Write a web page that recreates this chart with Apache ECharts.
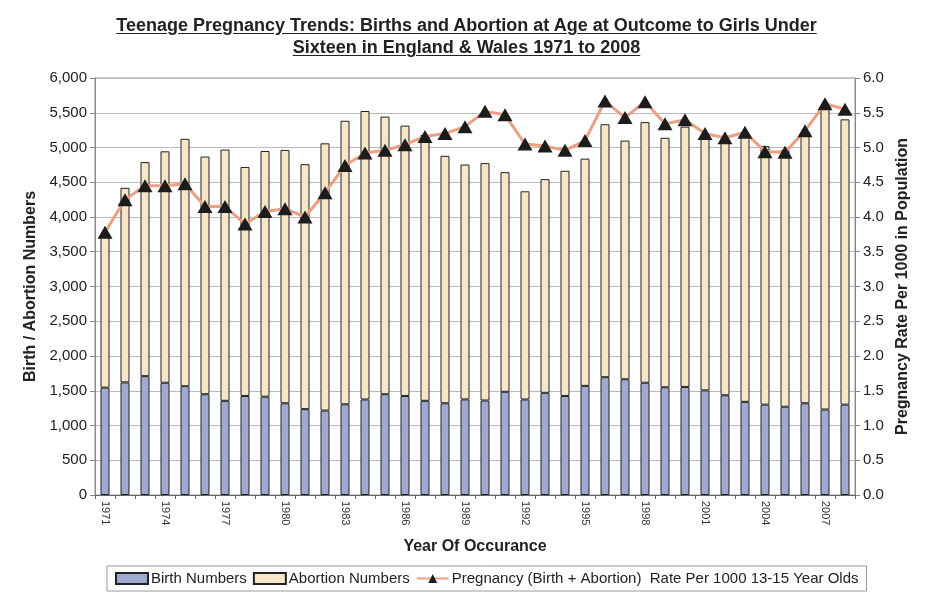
<!DOCTYPE html>
<html>
<head>
<meta charset="utf-8">
<script src="https://cdn.jsdelivr.net/npm/echarts@6/dist/echarts.min.js"></script>
<style>
	html, body { margin: 0; padding: 0; background: #fff; }
	#wrap { position: relative; width: 933px; height: 616px; }
	#title {
		position: absolute; left: 0; top: 14px; width: 933px; text-align: center;
		font-family: 'Liberation Sans Narrow', 'Liberation Sans', Arial, sans-serif;
		font-weight: bold; font-size: 18px; line-height: 22px; color: #222;
		text-decoration: underline; text-underline-offset: 2px;
	}
	#chart { position: absolute; left: 0; top: 0; width: 933px; height: 616px; }
</style>
</head>
<body>
<div id="wrap">
	<div id="chart"></div>
	<div id="title">Teenage Pregnancy Trends: Births and Abortion at Age at Outcome to Girls Under<br>Sixteen in England &amp; Wales 1971 to 2008</div>
</div>
<script>
// 年份
var years = ['1971','1972','1973','1974','1975','1976','1977','1978','1979','1980',
	'1981','1982','1983','1984','1985','1986','1987','1988','1989','1990',
	'1991','1992','1993','1994','1995','1996','1997','1998','1999','2000',
	'2001','2002','2003','2004','2005','2006','2007','2008'];
// 出生数
var birthNumbers = [1545,1620,1710,1615,1565,1450,1355,1425,1415,1320,
	1235,1215,1305,1375,1450,1425,1355,1320,1375,1360,
	1485,1375,1470,1425,1570,1695,1665,1615,1550,1555,
	1505,1435,1340,1300,1270,1320,1230,1300];
// 堕胎数
var abortionNumbers = [2195,2800,3080,3330,3560,3420,3615,3295,3535,3645,
	3525,3845,4080,4150,3995,3890,3825,3560,3380,3415,
	3160,2995,3075,3240,3270,3640,3435,3750,3590,3745,
	3645,3675,3810,3720,3690,3885,4355,4105];
// 怀孕率 (每1000人)
var pregnancyRate = [3.78,4.25,4.45,4.45,4.48,4.15,4.15,3.90,4.08,4.12,
	4.00,4.35,4.74,4.92,4.96,5.04,5.16,5.20,5.30,5.52,
	5.47,5.05,5.02,4.96,5.10,5.67,5.43,5.66,5.34,5.40,
	5.20,5.14,5.22,4.94,4.93,5.24,5.63,5.55];

var font = "'Liberation Sans Narrow', 'Liberation Sans', Arial, sans-serif";
var myChart = echarts.init(document.getElementById('chart'));
var option = {
	backgroundColor: '#ffffff',
	textStyle: { fontFamily: font, color: '#222' },
	grid: { left: 95, right: 78, top: 78, bottom: 121, show: true, borderColor: '#999', borderWidth: 1 },
	legend: {
		bottom: 25,
		left: 107,
		itemGap: 6,
		itemWidth: 32,
		itemHeight: 11,
		padding: [5, 8],
		borderColor: '#999',
		borderWidth: 1,
		textStyle: { fontFamily: font, fontSize: 15, color: '#222', padding: [0, 0, 0, -2] },
		data: [
			{ name: 'Birth Numbers', icon: 'rect' },
			{ name: 'Abortion Numbers', icon: 'rect' },
			'Pregnancy (Birth + Abortion)  Rate Per 1000 13-15 Year Olds'
		]
	},
	xAxis: {
		type: 'category',
		data: years,
		name: 'Year Of Occurance',
		nameLocation: 'middle',
		nameGap: 44,
		nameTextStyle: { fontFamily: font, fontWeight: 'bold', fontSize: 16, color: '#222' },
		axisLine: { lineStyle: { color: '#666' } },
		axisTick: { show: true, interval: 0, length: 4, lineStyle: { color: '#666' } },
		axisLabel: { interval: 2, rotate: -90, fontSize: 11, color: '#333', margin: 6 },
		splitLine: { show: false }
	},
	yAxis: [{
		type: 'value',
		min: 0,
		max: 6000,
		interval: 500,
		name: 'Birth / Abortion Numbers',
		nameLocation: 'middle',
		nameRotate: 90,
		nameGap: 56,
		nameTextStyle: { fontFamily: font, fontWeight: 'bold', fontSize: 16, color: '#222' },
		axisLine: { show: true, lineStyle: { color: '#888' } },
		axisTick: { show: true, length: 5, lineStyle: { color: '#888' } },
		axisLabel: {
			fontSize: 15, color: '#222', margin: 8,
			formatter: function(v) { return v.toLocaleString('en-US'); }
		},
		splitLine: { lineStyle: { color: '#bbb' } }
	}, {
		type: 'value',
		min: 0,
		max: 6,
		interval: 0.5,
		name: 'Pregnancy Rate Per 1000 in Population',
		nameLocation: 'middle',
		nameRotate: 90,
		nameGap: 40,
		nameTextStyle: { fontFamily: font, fontWeight: 'bold', fontSize: 16, color: '#222' },
		axisLine: { show: true, lineStyle: { color: '#888' } },
		axisTick: { show: true, length: 5, lineStyle: { color: '#888' } },
		axisLabel: {
			fontSize: 15, color: '#222', margin: 8,
			formatter: function(v) { return v.toFixed(1); }
		},
		splitLine: { show: false }
	}],
	series: [{
		name: 'Birth Numbers',
		type: 'bar',
		stack: 'total',
		barWidth: 9,
		itemStyle: { color: '#9eaad2', borderColor: '#222', borderWidth: 1 },
		data: birthNumbers
	}, {
		name: 'Abortion Numbers',
		type: 'bar',
		stack: 'total',
		barWidth: 9,
		itemStyle: { color: '#f6e6c6', borderColor: '#222', borderWidth: 1 },
		data: abortionNumbers
	}, {
		name: 'Pregnancy (Birth + Abortion)  Rate Per 1000 13-15 Year Olds',
		type: 'line',
		yAxisIndex: 1,
		symbol: 'triangle',
		symbolSize: [15, 13],
		lineStyle: { color: '#e9a083', width: 3 },
		itemStyle: { color: '#1c1c1c' },
		z: 5,
		data: pregnancyRate
	}]
};
myChart.setOption(option);
</script>
</body>
</html>
